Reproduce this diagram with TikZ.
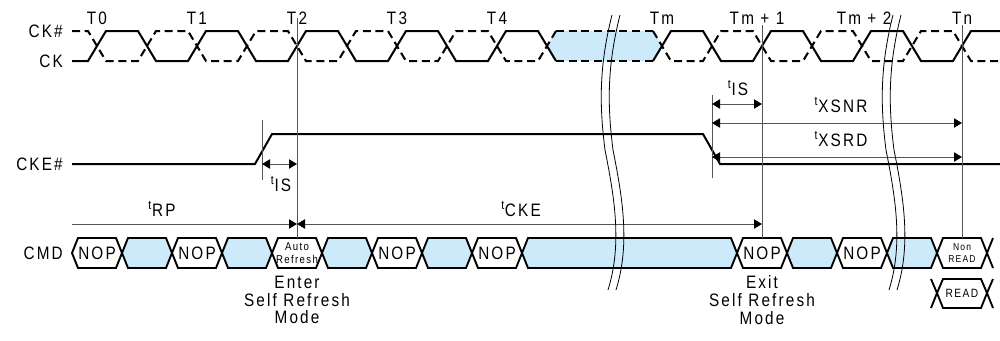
\documentclass[tikz,border=0pt]{standalone}
\usepackage{fontspec}
\setmainfont{Liberation Sans}[LetterSpace=12,FakeStretch=0.85]
\usepackage{tikz}
\usetikzlibrary{arrows.meta}
\definecolor{cmdblue}{RGB}{204,234,250}
\definecolor{markgray}{RGB}{85,85,85}

\begin{document}
\begin{tikzpicture}[x=0.75pt,y=0.75pt,yscale=-1,xscale=1,
  wave/.style={line width=1.5pt},
  ckbar/.style={wave,dash pattern=on 6pt off 3.5pt},
  cmdbox/.style={draw=black,line width=1.4pt},
  markline/.style={draw=markgray,line width=0.75pt},
  dimend/.style={markline,-{Triangle[length=6pt,width=7pt,color=black]}},
  dimboth/.style={markline,{Triangle[length=6pt,width=7pt,color=black]}-{Triangle[length=6pt,width=7pt,color=black]}},
  breakline/.style={draw=black,line width=0.6pt},
  lbl/.style={font=\fontsize{13.5}{13.2}\selectfont,inner sep=0.75pt},
  tiny/.style={font=\fontsize{7.5}{9}\selectfont,inner sep=0pt,align=center}]
\useasboundingbox (0,0) rectangle (1000,340);

%Shape: Polygon (shaded clock)
\fill[cmdblue] (547,46) -- (556,31) -- (653,31) -- (662,46) -- (653,61) -- (556,61) -- cycle ;
%Straight Lines CK
\draw[wave] (72,61) -- (88,61) -- (106,31) -- (138,31) -- (156,61) -- (188,61) -- (206,31) -- (238,31) -- (256,61) -- (288,61) -- (306,31) -- (338,31) -- (356,61) -- (388,61) -- (406,31) -- (438,31) -- (456,61) -- (488,61) -- (506,31) -- (538,31) -- (556,61) ;
\draw[wave] (653,61) -- (671,31) -- (703,31) -- (721,61) -- (753,61) -- (771,31) -- (803,31) -- (821,61) -- (853,61) -- (871,31) -- (903,31) -- (921,61) -- (953,61) -- (971,31) -- (1000,31) ;
%Straight Lines CK#
\draw[ckbar] (72,31) -- (88,31) -- (106,61) -- (138,61) -- (156,31) -- (188,31) -- (206,61) -- (238,61) -- (256,31) -- (288,31) -- (306,61) -- (338,61) -- (356,31) -- (388,31) -- (406,61) -- (438,61) -- (456,31) -- (488,31) -- (506,61) -- (538,61) -- (556,31) ;
\draw[ckbar] (556,31) -- (653,31) ;
\draw[ckbar] (556,61) -- (653,61) ;
\draw[ckbar] (653,31) -- (671,61) -- (703,61) -- (721,31) -- (753,31) -- (771,61) -- (803,61) -- (821,31) -- (853,31) -- (871,61) -- (903,61) -- (921,31) -- (953,31) -- (971,61) -- (1000,61) ;

%Straight Lines CKE#
\draw[wave] (72,164) -- (255,164) -- (272,134) -- (703,134) -- (720,164) -- (1000,164) ;

%Shape: Polygon CMD
\draw[cmdbox,fill=white] (72,253) -- (78,238) -- (116,238) -- (122,253) -- (116,268) -- (78,268) -- cycle ;
\draw[cmdbox,fill=cmdblue] (122,253) -- (128,238) -- (166,238) -- (172,253) -- (166,268) -- (128,268) -- cycle ;
\draw[cmdbox,fill=white] (172,253) -- (178,238) -- (216,238) -- (222,253) -- (216,268) -- (178,268) -- cycle ;
\draw[cmdbox,fill=cmdblue] (222,253) -- (228,238) -- (266,238) -- (272,253) -- (266,268) -- (228,268) -- cycle ;
\draw[cmdbox,fill=white] (272,253) -- (278,238) -- (316,238) -- (322,253) -- (316,268) -- (278,268) -- cycle ;
\draw[cmdbox,fill=cmdblue] (322,253) -- (328,238) -- (366,238) -- (372,253) -- (366,268) -- (328,268) -- cycle ;
\draw[cmdbox,fill=white] (372,253) -- (378,238) -- (416,238) -- (422,253) -- (416,268) -- (378,268) -- cycle ;
\draw[cmdbox,fill=cmdblue] (422,253) -- (428,238) -- (466,238) -- (472,253) -- (466,268) -- (428,268) -- cycle ;
\draw[cmdbox,fill=white] (472,253) -- (478,238) -- (516,238) -- (522,253) -- (516,268) -- (478,268) -- cycle ;
\draw[cmdbox,fill=cmdblue] (522,253) -- (528,238) -- (731,238) -- (737,253) -- (731,268) -- (528,268) -- cycle ;
\draw[cmdbox,fill=white] (737,253) -- (743,238) -- (781,238) -- (787,253) -- (781,268) -- (743,268) -- cycle ;
\draw[cmdbox,fill=cmdblue] (787,253) -- (793,238) -- (831,238) -- (837,253) -- (831,268) -- (793,268) -- cycle ;
\draw[cmdbox,fill=white] (837,253) -- (843,238) -- (881,238) -- (887,253) -- (881,268) -- (843,268) -- cycle ;
\draw[cmdbox,fill=cmdblue] (887,253) -- (893,238) -- (931,238) -- (937,253) -- (931,268) -- (893,268) -- cycle ;
\draw[cmdbox,fill=white] (937,253) -- (943,238) -- (981,238) -- (987,253) -- (981,268) -- (943,268) -- cycle ;
\draw[cmdbox] (993,238) -- (987,253) -- (993,268) ;
%Shape: Polygon READ
\draw[cmdbox,fill=white] (937,293) -- (943,279) -- (981,279) -- (987,293) -- (981,308) -- (943,308) -- cycle ;
\draw[cmdbox] (931,279) -- (937,293) -- (931,308) ;
\draw[cmdbox] (993,279) -- (987,293) -- (993,308) ;

%Straight Lines (reference edges)
\coordinate (ttwotop) at (297,18) ;
\coordinate (ttwobot) at (297,238) ;
\coordinate (tmonetop) at (762,25) ;
\coordinate (tmonebot) at (762,238) ;
\coordinate (tntop) at (962,25) ;
\coordinate (tnbot) at (962,238) ;
\coordinate (risetop) at (262,120) ;
\coordinate (risebot) at (262,180) ;
\coordinate (falltop) at (712,95) ;
\coordinate (fallbot) at (712,178) ;
\draw[markline] (ttwotop) -- (ttwobot) ;
\draw[markline] (tmonetop) -- (tmonebot) ;
\draw[markline] (tntop) -- (tnbot) ;
\draw[markline] (risetop) -- (risebot) ;
\draw[markline] (falltop) -- (fallbot) ;

%Straight Lines (timing arrows)
\coordinate (rpstart) at (72,224) ;
\coordinate (rpend) at (297,224) ;
\coordinate (ckeend) at (762,224) ;
\coordinate (isl) at (262,164) ;
\coordinate (isr) at (297,164) ;
\coordinate (isxl) at (712,104) ;
\coordinate (isxr) at (762,104) ;
\coordinate (snrl) at (712,123) ;
\coordinate (snrr) at (962,123) ;
\coordinate (srdl) at (712,157) ;
\coordinate (srdr) at (962,157) ;
\draw[dimend] (rpstart) -- (rpend) ;
\draw[dimboth] (rpend) -- (ckeend) ;
\draw[dimboth] (isl) -- (isr) ;
\draw[dimboth] (isxl) -- (isxr) ;
\draw[dimboth] (snrl) -- (snrr) ;
\draw[dimboth] (srdl) -- (srdr) ;

%Curve Lines (breaks)
\draw[breakline] (612,15) .. controls (598,70) and (600,110) .. (605,150) .. controls (615,200) and (622,245) .. (608,290) ;
\draw[breakline] (620,15) .. controls (606,70) and (608,110) .. (613,150) .. controls (623,200) and (630,245) .. (616,290) ;
\draw[breakline] (893,15) .. controls (879,70) and (881,110) .. (886,150) .. controls (896,200) and (903,245) .. (889,290) ;
\draw[breakline] (901,15) .. controls (887,70) and (889,110) .. (894,150) .. controls (904,200) and (911,245) .. (897,290) ;

% Text Node
\node[lbl,anchor=east] (lblckbar) at (64,31) {CK\#};
\node[lbl,anchor=east] (lblck) at (64,61) {CK};
\node[lbl,anchor=east] (lblcke) at (64,164) {CKE\#};
\node[lbl,anchor=east] (lblcmd) at (64,253) {CMD};
% Text Node
\node[lbl] (tzero) at (97,18) {T0};
\node[lbl] (tone) at (197,18) {T1};
\node[lbl] (ttwo) at (297,18) {T2};
\node[lbl] (tthree) at (397,18) {T3};
\node[lbl] (tfour) at (497,18) {T4};
\node[lbl] (tm) at (662,18) {Tm};
\node[lbl] (tmone) at (757,18) {Tm + 1};
\node[lbl] (tmtwo) at (864,18) {Tm + 2};
\node[lbl] (tn) at (962,18) {Tn};
% Text Node
\node[lbl] (lblrp) at (162,209) {\textsuperscript{t}RP};
\node[lbl] (lblcke) at (521,209) {\textsuperscript{t}CKE};
\node[lbl] (lblis) at (281,184) {\textsuperscript{t}IS};
\node[lbl] (lblisx) at (738,88) {\textsuperscript{t}IS};
\node[lbl] (lblxsnr) at (841,105) {\textsuperscript{t}XSNR};
\node[lbl] (lblxsrd) at (841,139) {\textsuperscript{t}XSRD};
% Text Node
\node[lbl] (nopa) at (97,253) {NOP};
\node[lbl] (nopb) at (197,253) {NOP};
\node[tiny,font=\fontsize{8.5}{10}\selectfont] (autoref) at (297,253) {Auto\\Refresh};
\node[lbl] (nopc) at (397,253) {NOP};
\node[lbl] (nopd) at (497,253) {NOP};
\node[lbl] (nope) at (762,253) {NOP};
\node[lbl] (nopf) at (862,253) {NOP};
\node[tiny] (nonread) at (962,253) {Non\\READ};
\node[lbl,font=\fontsize{9}{10}\selectfont] (read) at (962,293) {READ};
% Text Node
\node[lbl,align=center] (enter) at (297,300) {Enter\\Self Refresh\\Mode};
\node[lbl,align=center] (exit) at (762,300) {Exit\\Self Refresh\\Mode};

\end{tikzpicture}
\end{document}
